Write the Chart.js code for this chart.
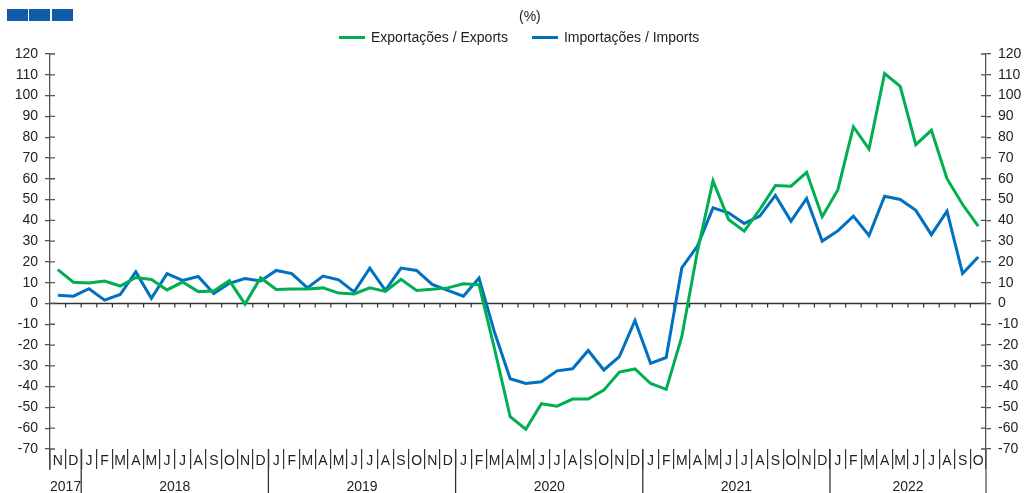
<!DOCTYPE html>
<html>
<head>
<meta charset="utf-8">
<script src="https://cdn.jsdelivr.net/npm/chart.js@4.4.0/dist/chart.umd.min.js"></script>
<style>
  body { margin: 0; background: #fff; font-family: "Liberation Sans", Arial, sans-serif; }
  #wrap { position: relative; width: 1025px; height: 493px; }
  .sq { position: absolute; top: 9px; width: 21px; height: 12px; background: #0f5ca8; }
  #unit { position: absolute; top: 8px; left: 519px; font-size: 14px; color: #222; }
  #legend { position: absolute; top: 29px; left: 339px; font-size: 14px; color: #222; display: flex; align-items: center; }
  .lg-line { display: inline-block; width: 26px; height: 3px; margin-right: 6px; }
  .lg-item { display: flex; align-items: center; margin-right: 24px; }
</style>
</head>
<body>
<div id="wrap">
  <div class="sq" style="left:7px"></div>
  <div class="sq" style="left:29px"></div>
  <div class="sq" style="left:52px"></div>
  <div id="unit">(%)</div>
  <div id="legend">
    <div class="lg-item"><span class="lg-line" style="background:#00B050"></span>Exportações / Exports</div>
    <div class="lg-item"><span class="lg-line" style="background:#0070C0"></span>Importações / Imports</div>
  </div>
  <canvas id="chart" width="1025" height="493"></canvas>
</div>
<script>
// Meses: Nov 2017 - Out 2022
const months = [
  'N','D',
  'J','F','M','A','M','J','J','A','S','O','N','D',
  'J','F','M','A','M','J','J','A','S','O','N','D',
  'J','F','M','A','M','J','J','A','S','O','N','D',
  'J','F','M','A','M','J','J','A','S','O','N','D',
  'J','F','M','A','M','J','J','A','S','O'
];
const years = ['2017', '2018', '2019', '2020', '2021', '2022'];
const yearStart = [0, 2, 14, 26, 38, 50]; // índice do primeiro mês de cada ano

// Exportações / Exports (%)
const exportsData = [
  16.3, 10.2,
  9.8, 10.8, 8.4, 12.5, 11.5, 6.5, 10.3, 5.7, 6.0, 11.0, -0.3, 12.4,
  6.7, 7.0, 7.0, 7.5, 5.0, 4.6, 7.5, 5.8, 11.6, 6.2, 6.8, 7.5,
  9.5, 9.0, -22.0, -54.5, -60.5, -48.2, -49.4, -46.0, -46.0, -41.7, -33.0, -31.5,
  -38.5, -41.3, -16.0, 25.0, 59.0, 40.4, 34.8, 45.2, 56.7, 56.4, 63.1, 41.7,
  54.6, 85.0, 74.3, 110.6, 104.4, 76.4, 83.3, 60.0, 47.6, 37.2
];
// Importações / Imports (%)
const importsData = [
  4.0, 3.5,
  7.1, 1.6, 4.3, 15.2, 2.5, 14.3, 11.1, 13.0, 4.8, 9.7, 12.0, 10.8,
  15.9, 14.4, 7.5, 13.2, 11.4, 5.6, 17.0, 6.3, 17.0, 15.9, 9.2, 6.3,
  3.5, 12.2, -14.0, -36.2, -38.5, -37.7, -32.4, -31.4, -22.6, -32.0, -25.6, -8.2,
  -28.8, -26.0, 17.1, 27.6, 46.0, 43.6, 38.5, 42.0, 52.0, 39.6, 50.5, 30.0,
  34.9, 42.0, 32.7, 51.6, 50.0, 44.8, 33.1, 44.4, 14.4, 22.4
];
const yMin = -70, yMax = 120, yStep = 10;

const axisColor = '#555';
const textColor = '#222';
const font = { family: '"Liberation Sans", Arial, sans-serif', size: 14 };

// linha do zero + pequenos traços
const zeroLine = {
  id: 'zeroLine',
  beforeDatasetsDraw(chart) {
    const { ctx, chartArea, scales } = chart;
    const x = scales.x, y = scales.y;
    const y0 = y.getPixelForValue(0);
    const step = x.getPixelForValue(1) - x.getPixelForValue(0);
    ctx.save();
    ctx.strokeStyle = '#333';
    ctx.lineWidth = 1.5;
    ctx.beginPath();
    ctx.moveTo(chartArea.left, y0);
    ctx.lineTo(chartArea.right, y0);
    ctx.stroke();
    ctx.lineWidth = 1.2;
    for (let i = 1; i < months.length; i++) {
      const bx = x.getPixelForValue(i) - step / 2;
      ctx.beginPath();
      ctx.moveTo(bx, y0);
      ctx.lineTo(bx, y0 + 4);
      ctx.stroke();
    }
    ctx.restore();
  }
};

// traços internos dos eixos Y, separadores de ano e rótulos de ano
const axisDecor = {
  id: 'axisDecor',
  afterDraw(chart) {
    const { ctx, chartArea, scales } = chart;
    const x = scales.x, y = scales.y;
    const step = x.getPixelForValue(1) - x.getPixelForValue(0);
    const H = chart.height;
    ctx.save();
    ctx.strokeStyle = axisColor;
    ctx.lineWidth = 1.3;
    y.ticks.forEach(t => {
      const py = y.getPixelForValue(t.value);
      ctx.beginPath();
      ctx.moveTo(chartArea.left, py); ctx.lineTo(chartArea.left + 5, py);
      ctx.moveTo(chartArea.right - 5, py); ctx.lineTo(chartArea.right, py);
      ctx.stroke();
    });
    // prolongamento dos eixos
    ctx.beginPath();
    ctx.moveTo(chartArea.left, chartArea.bottom); ctx.lineTo(chartArea.left, chartArea.bottom + 21);
    ctx.moveTo(chartArea.right, chartArea.bottom); ctx.lineTo(chartArea.right, H);
    ctx.stroke();
    // separadores de ano
    ctx.strokeStyle = '#333';
    yearStart.forEach((s, k) => {
      if (k === 0) return;
      const bx = x.getPixelForValue(s) - step / 2;
      ctx.beginPath();
      ctx.moveTo(bx, chartArea.bottom); ctx.lineTo(bx, H);
      ctx.stroke();
    });
    // anos
    ctx.fillStyle = textColor;
    ctx.font = `${font.size}px ${font.family}`;
    ctx.textAlign = 'center';
    ctx.textBaseline = 'middle';
    years.forEach((yr, k) => {
      const a = yearStart[k];
      const b = k + 1 < yearStart.length ? yearStart[k + 1] - 1 : months.length - 1;
      const cx = (x.getPixelForValue(a) + x.getPixelForValue(b)) / 2;
      ctx.fillText(yr, cx, chartArea.bottom + 38);
    });
    ctx.restore();
  }
};

const yAxis = (pos, width, pad) => ({
  type: 'linear',
  position: pos,
  min: yMin,
  max: yMax,
  afterFit: s => { s.width = width; },
  ticks: { stepSize: yStep, color: textColor, font: font, padding: pad },
  grid: { drawOnChartArea: false, tickLength: 5, color: axisColor, lineWidth: 1.3 },
  border: { color: axisColor, width: 1.3 }
});

new Chart(document.getElementById('chart').getContext('2d'), {
  type: 'line',
  data: {
    labels: months,
    datasets: [
      { label: 'Exportações / Exports', data: exportsData, borderColor: '#00B050', borderWidth: 3, pointRadius: 0, tension: 0, yAxisID: 'y' },
      { label: 'Importações / Imports', data: importsData, borderColor: '#0070C0', borderWidth: 3, pointRadius: 0, tension: 0, yAxisID: 'y' }
    ]
  },
  options: {
    responsive: false,
    animation: false,
    layout: { padding: { top: 54, left: 0, right: 0, bottom: 0 } },
    plugins: { legend: { display: false }, tooltip: { enabled: false } },
    scales: {
      x: {
        type: 'category',
        offset: true,
        afterFit: s => { s.height = 44; },
        grid: { drawOnChartArea: false, offset: true, tickLength: 20, color: '#333', lineWidth: 1.2 },
        border: { display: false },
        ticks: { autoSkip: false, maxRotation: 0, minRotation: 0, padding: -16, color: textColor, font: font }
      },
      y: yAxis('left', 50, 7),
      y2: yAxis('right', 39, 7)
    }
  },
  plugins: [zeroLine, axisDecor]
});
</script>
</body>
</html>
